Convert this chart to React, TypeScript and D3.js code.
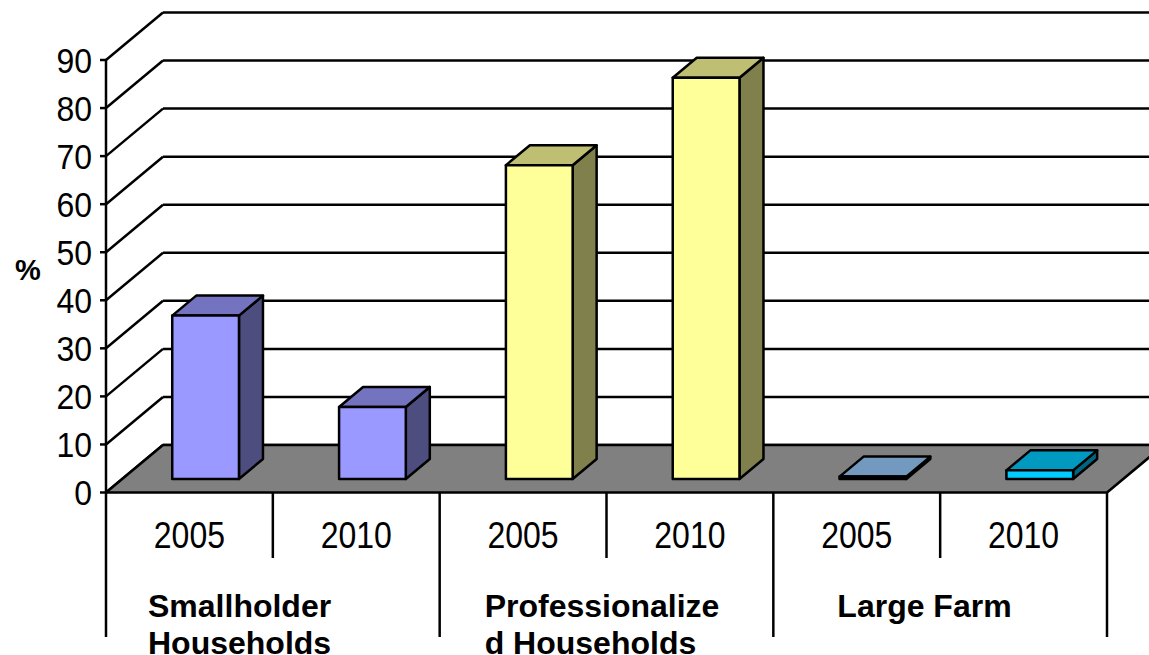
import React from 'react';
import * as d3 from 'd3';

const groupNames = ['Smallholder Households', 'Professionalized Households', 'Large Farm'];
const groupLabelLines = [['Smallholder', 'Households'], ['Professionalize', 'd Households'], ['Large Farm']];
const years = ['2005', '2010'];
const smallholderValues = [34, 15];
const professionalizedValues = [65.3, 83.5];
const largeFarmValues = [0.5, 1.8];
const yTicks = [0, 10, 20, 30, 40, 50, 60, 70, 80, 90];

const seriesValues = [smallholderValues, professionalizedValues, largeFarmValues];
const barColors = [['#9999FF', '#9999FF'], ['#FFFF99', '#FFFF99'], ['#99CCFF', '#00CCFF']];

const width = 1149;
const height = 655;
const font = '"Liberation Sans", Arial, sans-serif';

// oblique depth of the floor
const depthX = 57;
const depthY = -47.5;
// bars sit between these depth fractions
const barFront = 0.284;
const barBack = 0.705;
const groupLabelOffsets = [42, 45, 64];
// the original labels render a bit taller than Liberation Sans
const stretchY = 1.1;

const shade = (c: string, k: number) => {
    const col = d3.rgb(c);
    return d3.rgb(col.r * k, col.g * k, col.b * k).formatHex();
};

export default function App() {
    const bars = groupNames.flatMap((g, gi) =>
        years.map((yr, yi) => ({
            key: `${g}-${yr}`,
            group: g,
            year: yr,
            value: seriesValues[gi][yi],
            color: barColors[gi][yi],
        }))
    );

    const x = d3.scaleBand<string>()
        .domain(bars.map(b => b.key))
        .range([106, 1107])
        .padding(0);

    const xGroup = d3.scaleBand<string>()
        .domain(groupNames)
        .range([106, 1107])
        .padding(0);

    const y = d3.scaleLinear().domain([0, 90]).range([492.5, 60]);

    const y0 = y(0);
    const left = x.range()[0];
    const right = x.range()[1];
    const barW = x.bandwidth() * 0.4;

    const floor = [
        [left, y0], [right, y0], [right + depthX, y0 + depthY], [left + depthX, y0 + depthY],
    ].map(p => p.join(',')).join(' ');

    const fx1 = depthX * barFront, fy1 = depthY * barFront;
    const fx2 = depthX * barBack, fy2 = depthY * barBack;

    const stroke = '#000';

    return (
        <svg width={width} height={height} style={{ position: 'absolute', left: 0, top: 0, background: '#fff' }}
            fontFamily={font}>
            {/* back wall gridlines */}
            {yTicks.map(t => (
                <line key={`g${t}`} x1={left + depthX} x2={right + depthX + 20}
                    y1={y(t) + depthY} y2={y(t) + depthY} stroke={stroke} strokeWidth={2.5} />
            ))}
            {/* left wall diagonals */}
            {yTicks.map(t => (
                <line key={`d${t}`} x1={left} y1={y(t)} x2={left + depthX} y2={y(t) + depthY}
                    stroke={stroke} strokeWidth={2.5} />
            ))}
            {/* floor */}
            <polygon points={floor} fill="#808080" stroke={stroke} strokeWidth={2.5} strokeLinejoin="round" />

            {/* bars */}
            {bars.map(b => {
                const bx0 = (x(b.key) as number) + (x.bandwidth() - barW) / 2;
                const bx1 = bx0 + barW;
                const yv = y(b.value);
                const top = [
                    [bx0 + fx1, yv + fy1], [bx1 + fx1, yv + fy1], [bx1 + fx2, yv + fy2], [bx0 + fx2, yv + fy2],
                ].map(p => p.join(',')).join(' ');
                const side = [
                    [bx1 + fx1, yv + fy1], [bx1 + fx2, yv + fy2], [bx1 + fx2, y0 + fy2], [bx1 + fx1, y0 + fy1],
                ].map(p => p.join(',')).join(' ');
                return (
                    <g key={b.key} stroke={stroke} strokeWidth={2.5} strokeLinejoin="round">
                        <polygon points={side} fill={shade(b.color, 0.5)} />
                        <polygon points={top} fill={shade(b.color, 0.75)} />
                        <rect x={bx0 + fx1} y={yv + fy1} width={barW} height={y0 - yv}
                            fill={b.color} />
                    </g>
                );
            })}

            {/* value axis */}
            <line x1={left} x2={left} y1={y(90)} y2={637} stroke={stroke} strokeWidth={2.5} />
            {yTicks.map(t => (
                <g key={`t${t}`}>
                    <line x1={left - 6} x2={left} y1={y(t)} y2={y(t)} stroke={stroke} strokeWidth={2.5} />
                    <text transform={`translate(92,${y(t) + 12.5}) scale(1,${stretchY})`} textAnchor="end"
                        fontSize={32} fill="#000">{t}</text>
                </g>
            ))}
            <text x={28} y={280} textAnchor="middle" fontSize={29} fontWeight="bold" fill="#000">%</text>

            {/* category axis */}
            {bars.map((b, i) => (
                <g key={`c${b.key}`}>
                    {i % 2 === 1 && (
                        <line x1={x(b.key)} x2={x(b.key)} y1={y0} y2={558} stroke={stroke} strokeWidth={2.5} />
                    )}
                    <text transform={`translate(${(x(b.key) as number) + x.bandwidth() / 2},548) scale(1,${stretchY + 0.05})`}
                        textAnchor="middle" fontSize={32} fill="#000">{b.year}</text>
                </g>
            ))}
            {groupNames.map((g, gi) => (
                <g key={`grp${g}`}>
                    <line x1={(xGroup(g) as number) + xGroup.bandwidth()} x2={(xGroup(g) as number) + xGroup.bandwidth()}
                        y1={y0} y2={637} stroke={stroke} strokeWidth={2.5} />
                    <text fontSize={32} fontWeight="bold" fill="#000">
                        {groupLabelLines[gi].map((line, li) => (
                            <tspan key={line} x={(xGroup(g) as number) + groupLabelOffsets[gi]} y={617 + li * 37}>{line}</tspan>
                        ))}
                    </text>
                </g>
            ))}
        </svg>
    );
}
